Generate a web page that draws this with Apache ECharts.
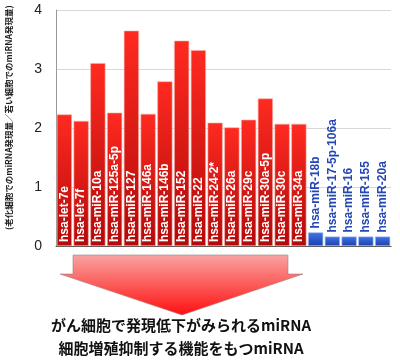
<!DOCTYPE html>
<html><head><meta charset="utf-8">
<script src="https://cdn.jsdelivr.net/npm/echarts@6/dist/echarts.min.js"></script>
<style>html,body{margin:0;padding:0;background:#fff}#c{width:400px;height:363px}</style>
</head><body><div id="c"></div>
<script>
const categories = ['hsa-let-7e','hsa-let-7f','hsa-miR-10a','hsa-miR-125a-5p','hsa-miR-127','hsa-miR-146a','hsa-miR-146b','hsa-miR-152','hsa-miR-22','hsa-miR-24-2*','hsa-miR-26a','hsa-miR-29c','hsa-miR-30a-5p','hsa-miR-30c','hsa-miR-34a','hsa-miR-18b','hsa-miR-17-5p-106a','hsa-miR-16','hsa-miR-155','hsa-miR-20a'];
const upValues = [2.23,2.12,3.10,2.26,3.65,2.24,2.79,3.48,3.32,2.09,2.01,2.14,2.50,2.07,2.07,null,null,null,null,null];
const downValues = [null,null,null,null,null,null,null,null,null,null,null,null,null,null,null,0.23,0.16,0.16,0.16,0.16];
const yTicks = [0,1,2,3,4];
const yAxisTitle = '(老化細胞でのmiRNA発現量／若い細胞でのmiRNA発現量)';
const caption1 = 'がん細胞で発現低下がみられるmiRNA';
const caption2 = '細胞増殖抑制する機能をもつmiRNA';

const chart = echarts.init(document.getElementById('c'), null, {renderer:'canvas'});
const redGrad = new echarts.graphic.LinearGradient(0,0,0,1,[{offset:0,color:'#ff2a20'},{offset:1,color:'#b30a0a'}]);
const blueGrad = new echarts.graphic.LinearGradient(0,0,0,1,[{offset:0,color:'#3f73ea'},{offset:1,color:'#1d40a8'}]);
chart.setOption({
  animation:false,
  grid:{left:56,right:9,top:10,bottom:117},
  xAxis:{type:'category',data:categories,
    axisLine:{lineStyle:{color:'#555',width:1}},axisTick:{show:false},axisLabel:{show:false}},
  yAxis:{type:'value',min:0,max:4,interval:1,
    axisLine:{show:true,lineStyle:{color:'#999'}},axisTick:{show:false},
    splitLine:{lineStyle:{color:'#d8d8d8'}},
    axisLabel:{color:'#222',fontSize:14,fontFamily:'Liberation Sans, Arial',margin:14,
      formatter:v=>yTicks.includes(v)?String(v):''}},
  series:[
    {type:'bar',data:upValues,stack:'a',barCategoryGap:'10%',
      itemStyle:{color:redGrad,borderColor:'#f4b0a8',borderWidth:0.6},
      label:{show:true,position:'insideBottom',rotate:90,align:'left',verticalAlign:'middle',distance:4,
        color:'#fff',fontSize:12,fontWeight:'bold',fontFamily:'Liberation Sans, Arial',
        formatter:p=>p.name}},
    {type:'bar',data:downValues,stack:'a',
      itemStyle:{color:blueGrad,borderColor:'#9fb6ee',borderWidth:0.6},
      label:{show:true,position:'top',rotate:90,align:'left',verticalAlign:'middle',distance:4,
        color:'#2547b4',fontSize:12,fontWeight:'bold',fontFamily:'Liberation Sans, Arial',
        formatter:p=>p.name}}
  ],
  graphic:[
    {type:'text',left:3,top:10,rotation:Math.PI/2,
      style:{text:yAxisTitle,fill:'#222',font:'bold 8.5px "Noto Sans CJK JP", sans-serif'},
      x:5,y:230,left:null,top:null},
    {type:'polygon',shape:{points:[[73,255],[288,255],[288,274],[303,274],[182,315],[60,274],[73,274]]},
      style:{fill:new echarts.graphic.LinearGradient(0,0,0,1,[{offset:0,color:'#f8a4a0'},{offset:1,color:'#ff1010'}]),
        stroke:'#a08080',lineWidth:0.6}},
    {type:'text',x:181,y:325,style:{text:caption1,fill:'#111',align:'center',verticalAlign:'middle',
      font:'bold 15px "Noto Sans CJK JP", sans-serif'}},
    {type:'text',x:181,y:348,style:{text:caption2,fill:'#111',align:'center',verticalAlign:'middle',
      font:'bold 15px "Noto Sans CJK JP", sans-serif'}}
  ]
});
</script></body></html>
